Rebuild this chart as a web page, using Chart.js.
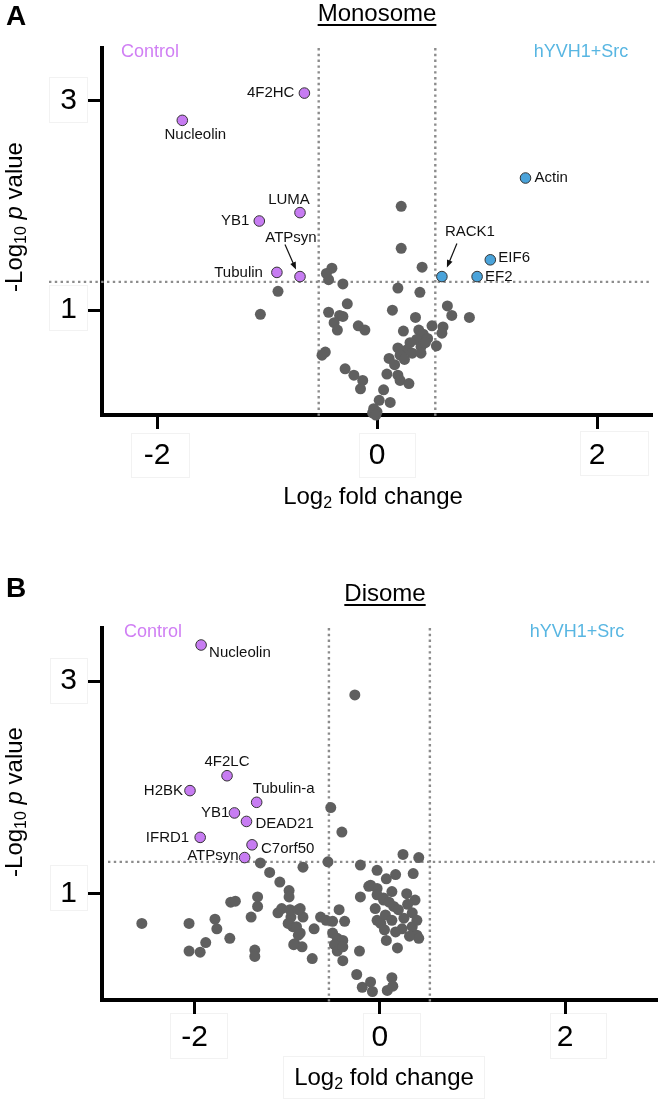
<!DOCTYPE html>
<html>
<head>
<meta charset="utf-8">
<script src="https://cdn.jsdelivr.net/npm/chart.js@4.4.1/dist/chart.umd.min.js"></script>
<style>
  body { margin: 0; background: #fff; width: 664px; height: 1100px; position: relative; overflow: hidden; }
  canvas { position: absolute; left: 0; }
  #monoCanvas { top: 0; }
  #diCanvas { top: 560px; }
</style>
</head>
<body>
<canvas id="monoCanvas" width="664" height="540"></canvas>
<canvas id="diCanvas" width="664" height="540"></canvas>
<script>

  //////////////////
 // DATA         //
//////////////////

const xTicks = [-2, 0, 2];
const yTicks = [1, 3];

// Monosome : other proteins (grey)
const monoGreyX = [0.22, 0.22, 0.41, -0.41, -0.46, -0.44, -0.31, 0.19, 0.39, -0.90, -0.27, 0.14, 0.64, -0.44, -0.34, 0.35, 0.68, 0.84, -1.06, -0.31,
  -0.39, -0.36, -0.17, -0.11, 0.24, 0.60, 0.59, 0.38, 0.42, 0.50, 0.36, 0.46, 0.54, 0.30, 0.40, 0.27, 0.19, 0.32, 0.21, 0.11,
  0.25, 0.40, 0.44, -0.47, -0.50, 0.16, 0.09, 0.19, 0.21, 0.29, -0.29, -0.21, -0.13, -0.15, 0.06, 0.02, 0.12, -0.03, 0.00, -0.04, -0.01];
const monoGreyY = [1.99, 1.59, 1.41, 1.40, 1.35, 1.29, 1.25, 1.21, 1.17, 1.18, 1.06, 1.00, 1.04, 0.98, 0.95, 0.93, 0.95, 0.93, 0.96, 0.94,
  0.88, 0.81, 0.85, 0.81, 0.80, 0.84, 0.78, 0.81, 0.77, 0.85, 0.72, 0.73, 0.66, 0.69, 0.65, 0.62, 0.64, 0.59, 0.57, 0.54,
  0.53, 0.59, 0.69, 0.60, 0.57, 0.48, 0.39, 0.38, 0.33, 0.30, 0.44, 0.38, 0.33, 0.25, 0.24, 0.14, 0.12, 0.06, 0.03, 0.02, 0.00];

// Monosome : enriched in Control (purple)
const monoCtrlNames = ['4F2HC', 'Nucleolin', 'LUMA', 'YB1', 'ATPsyn', 'Tubulin'];
const monoCtrlX = [-0.66, -1.77, -0.70, -1.07, -0.70, -0.91];
const monoCtrlY = [3.07, 2.81, 1.93, 1.85, 1.32, 1.36];

// Monosome : enriched in hYVH1+Src (blue)
const monoSrcNames = ['Actin', 'RACK1', 'EIF6', 'EF2'];
const monoSrcX = [1.35, 0.59, 1.03, 0.91];
const monoSrcY = [2.26, 1.32, 1.48, 1.32];

const monoFcCut = [-0.53, 0.53];
const monoPCut = 1.27;

// Disome : other proteins (grey)
const diGreyX = [-0.27, -0.53, -0.41, 0.25, 0.42, -0.56, -1.29, -0.83, -0.21, -1.19, -0.03, 0.17, 0.07, 0.36, -1.08, -0.98, -0.10, -0.03, 0.13, 0.29,
  -0.21, -0.98, -1.32, 0.38, 0.04, -1.61, -1.56, -1.32, -2.57, -2.06, -1.78, -1.76, -1.88, -2.06, -1.94, -1.62, -1.39, -1.35, -1.35, -1.10,
  -1.06, -0.96, -0.86, -0.83, -0.94, -0.86, -0.92, -0.84, -0.71, -0.73, -0.64, -0.58, -0.51, -0.44, -0.38, -0.51, -0.46, -0.40, -0.49, -0.46,
  -0.40, -0.22, -0.25, -0.19, -0.10, -0.08, 0.08, 0.13, 0.14, -0.12, -0.03, -0.05, 0.04, -0.03, 0.06, 0.15, 0.13, 0.26, 0.35, 0.40,
  0.17, 0.24, 0.35, 0.40, 0.42, 0.07, 0.19, 0.01, -0.97, -0.88, -0.99, -0.90, -0.88, -0.93, -0.40, 0.10, 0.20, 0.30, 0.05, 0.32];
const diGreyY = [2.87, 1.81, 1.58, 1.37, 1.34, 1.30, 1.29, 1.25, 1.27, 1.20, 1.22, 1.18, 1.14, 1.19, 1.11, 1.03, 1.08, 1.05, 1.02, 1.00,
  0.97, 0.97, 0.97, 0.94, 0.96, 0.92, 0.93, 0.88, 0.72, 0.72, 0.76, 0.67, 0.54, 0.46, 0.45, 0.58, 0.78, 0.47, 0.41, 0.82,
  0.86, 0.78, 0.86, 0.78, 0.69, 0.63, 0.53, 0.50, 0.67, 0.39, 0.78, 0.75, 0.74, 0.85, 0.74, 0.63, 0.58, 0.56, 0.52, 0.46,
  0.37, 0.46, 0.24, 0.12, 0.17, 0.08, 0.09, 0.21, 0.13, 1.07, 0.99, 0.86, 0.94, 0.75, 0.80, 0.88, 0.75, 0.77, 0.82, 0.75,
  0.64, 0.67, 0.69, 0.61, 0.58, 0.56, 0.49, 0.72, 0.85, 0.85, 0.72, 0.69, 0.61, 0.52, 0.50, 0.92, 0.85, 0.90, 0.66, 0.60];

// Disome : enriched in Control (purple)
const diCtrlNames = ['Nucleolin', '4F2LC', 'H2BK', 'Tubulin-a', 'YB1', 'DEAD21', 'IFRD1', 'C7orf50', 'ATPsyn'];
const diCtrlX = [-1.93, -1.65, -2.05, -1.33, -1.57, -1.44, -1.94, -1.38, -1.46];
const diCtrlY = [3.34, 2.11, 1.97, 1.86, 1.76, 1.68, 1.53, 1.46, 1.34];

const diFcCut = [-0.55, 0.54];
const diPCut = 1.30;


  //////////////////
 // STYLE        //
//////////////////

const FONT = '"Liberation Sans", Arial, Helvetica, sans-serif';
const GREY = '#5f5f5f';
const PURPLE = '#c77cf2';
const BLUE = '#4aa3da';

// label placement around the points (px)
const monoLabelPos = {
  '4F2HC': { dx: -10, dy: 0, align: 'right' },
  'Nucleolin': { dx: 13, dy: 15, align: 'center' },
  'LUMA': { dx: -11, dy: -13, align: 'center' },
  'YB1': { dx: -10, dy: 0, align: 'right' },
  'ATPsyn': { dx: -9, dy: -39, align: 'center', arrow: [-15, -32, -4, -7] },
  'Tubulin': { dx: -14, dy: 0, align: 'right' },
  'Actin': { dx: 9, dy: 0, align: 'left' },
  'RACK1': { dx: 28, dy: -45, align: 'center', arrow: [15, -33, 5, -9] },
  'EIF6': { dx: 8, dy: -2, align: 'left' },
  'EF2': { dx: 8, dy: 0, align: 'left' }
};
const diLabelPos = {
  'Nucleolin': { dx: 8, dy: 8, align: 'left' },
  '4F2LC': { dx: 0, dy: -14, align: 'center' },
  'H2BK': { dx: -7, dy: 0, align: 'right' },
  'Tubulin-a': { dx: -4, dy: -13, align: 'left' },
  'YB1': { dx: -5, dy: 0, align: 'right' },
  'DEAD21': { dx: 9, dy: 2, align: 'left' },
  'IFRD1': { dx: -11, dy: 0, align: 'right' },
  'C7orf50': { dx: 9, dy: 4, align: 'left' },
  'ATPsyn': { dx: -6, dy: -2, align: 'right' }
};

function toPoints(xs, ys) {
  return xs.map((v, i) => ({ x: v, y: ys[i] }));
}

// draws a run of text pieces (for subscripts / italics), centred on x
function drawRich(ctx, parts, x, y) {
  let total = 0;
  parts.forEach(p => { ctx.font = p.font; total += ctx.measureText(p.t).width; });
  let cx = x - total / 2;
  ctx.textAlign = 'left';
  ctx.textBaseline = 'middle';
  parts.forEach(p => {
    ctx.font = p.font;
    ctx.fillText(p.t, cx, y + (p.dy || 0));
    cx += ctx.measureText(p.t).width;
  });
}

function xTitleParts() {
  return [
    { t: 'Log', font: '24px ' + FONT },
    { t: '2', font: '16px ' + FONT, dy: 7 },
    { t: ' fold change', font: '24px ' + FONT }
  ];
}
function yTitleParts() {
  return [
    { t: '-Log', font: '24px ' + FONT },
    { t: '10', font: '16px ' + FONT, dy: 7 },
    { t: ' ', font: '24px ' + FONT },
    { t: 'p', font: 'italic 24px ' + FONT },
    { t: ' value', font: '24px ' + FONT }
  ];
}


  //////////////////
 // PLUGIN       //
//////////////////

const volcanoDeco = {
  id: 'volcanoDeco',

  beforeDraw(chart, args, o) {
    const ctx = chart.ctx;
    ctx.save();
    ctx.fillStyle = '#fff';
    ctx.strokeStyle = '#f2f2f2';
    ctx.lineWidth = 1;
    o.boxes.forEach(b => {
      ctx.fillRect(b[0], b[1], b[2], b[3]);
      ctx.strokeRect(b[0] + 0.5, b[1] + 0.5, b[2], b[3]);
    });
    ctx.restore();
  },

  beforeDatasetsDraw(chart, args, o) {
    const { ctx, chartArea, scales: { x, y } } = chart;
    ctx.save();
    ctx.strokeStyle = '#8c8c8c';
    ctx.lineWidth = 2.4;
    ctx.setLineDash([2.4, 3.4]);
    o.fcCut.forEach(v => {
      const px = x.getPixelForValue(v);
      ctx.beginPath();
      ctx.moveTo(px, chartArea.top);
      ctx.lineTo(px, chartArea.bottom + 3);
      ctx.stroke();
    });
    const py = y.getPixelForValue(o.pCut);
    ctx.beginPath();
    ctx.moveTo(o.hStart, py);
    ctx.lineTo(chartArea.right - 3, py);
    ctx.stroke();
    ctx.restore();
  },

  afterDatasetsDraw(chart, args, o) {
    const ctx = chart.ctx;
    ctx.save();
    ctx.fillStyle = '#111';
    ctx.strokeStyle = '#111';
    ctx.font = '15px ' + FONT;
    ctx.textBaseline = 'middle';
    chart.data.datasets.forEach((ds, i) => {
      if (!ds.names) return;
      const meta = chart.getDatasetMeta(i);
      ds.names.forEach((name, j) => {
        const pt = meta.data[j];
        const lp = o.labelPos[name];
        if (!lp) return;
        ctx.textAlign = lp.align;
        ctx.fillText(name, pt.x + lp.dx, pt.y + lp.dy);
        if (lp.arrow) {
          const x1 = pt.x + lp.arrow[0], y1 = pt.y + lp.arrow[1];
          const x2 = pt.x + lp.arrow[2], y2 = pt.y + lp.arrow[3];
          const ang = Math.atan2(y2 - y1, x2 - x1);
          ctx.lineWidth = 1.2;
          ctx.beginPath();
          ctx.moveTo(x1, y1);
          ctx.lineTo(x2 - 5 * Math.cos(ang), y2 - 5 * Math.sin(ang));
          ctx.stroke();
          ctx.beginPath();
          ctx.moveTo(x2, y2);
          ctx.lineTo(x2 - 8 * Math.cos(ang - 0.38), y2 - 8 * Math.sin(ang - 0.38));
          ctx.lineTo(x2 - 8 * Math.cos(ang + 0.38), y2 - 8 * Math.sin(ang + 0.38));
          ctx.closePath();
          ctx.fill();
        }
      });
    });
    ctx.restore();
  },

  afterDraw(chart, args, o) {
    const ctx = chart.ctx;
    ctx.save();
    ctx.fillStyle = '#000';
    ctx.textBaseline = 'middle';

    // panel letter
    ctx.font = 'bold 28px ' + FONT;
    ctx.textAlign = 'left';
    ctx.fillText(o.letter, o.letterPos[0], o.letterPos[1]);

    // title, underlined
    ctx.font = '24px ' + FONT;
    ctx.textAlign = 'center';
    ctx.fillText(o.title, o.titlePos[0], o.titlePos[1]);
    const tw = ctx.measureText(o.title).width;
    ctx.fillRect(o.titlePos[0] - tw / 2, o.titlePos[1] + 10, tw, 2);

    // group names
    ctx.font = '18px ' + FONT;
    ctx.fillStyle = '#d07ff4';
    ctx.fillText('Control', o.ctrlPos[0], o.ctrlPos[1]);
    ctx.fillStyle = '#58b6e2';
    ctx.fillText('hYVH1+Src', o.srcPos[0], o.srcPos[1]);

    // axis titles
    ctx.fillStyle = '#000';
    drawRich(ctx, xTitleParts(), o.xTitlePos[0], o.xTitlePos[1]);
    ctx.translate(o.yTitlePos[0], o.yTitlePos[1]);
    ctx.rotate(-Math.PI / 2);
    drawRich(ctx, yTitleParts(), 0, 0);
    ctx.restore();
  }
};


  //////////////////
 // CHART        //
//////////////////

function makeVolcano(canvasId, datasets, xRange, pad, xAxisHeight, tickPad, deco) {
  return new Chart(document.getElementById(canvasId).getContext('2d'), {
    type: 'scatter',
    data: { datasets: datasets },
    options: {
      responsive: false,
      animation: false,
      layout: { padding: pad },
      plugins: { legend: { display: false }, tooltip: { enabled: false }, volcanoDeco: deco },
      scales: {
        x: {
          type: 'linear',
          min: xRange[0],
          max: xRange[1],
          afterBuildTicks: s => { s.ticks = xTicks.map(v => ({ value: v })); },
          afterFit: s => { s.height = xAxisHeight; },
          grid: { drawOnChartArea: false, drawTicks: true, tickLength: 14, tickWidth: 3, tickColor: '#000' },
          border: { display: true, width: 4, color: '#000' },
          ticks: { color: '#000', padding: tickPad, font: { size: 30, family: FONT } }
        },
        y: {
          type: 'linear',
          min: 0,
          max: 3.5,
          afterBuildTicks: s => { s.ticks = yTicks.map(v => ({ value: v })); },
          afterFit: s => { s.width = 102; },
          grid: { drawOnChartArea: false, drawTicks: true, tickLength: 14, tickWidth: 3, tickColor: '#000' },
          border: { display: true, width: 4, color: '#000' },
          ticks: { color: '#000', padding: 11, font: { size: 30, family: FONT } }
        }
      }
    },
    plugins: [volcanoDeco]
  });
}

const greyStyle = { backgroundColor: GREY, borderWidth: 0, pointRadius: 5.5, clip: false };

// Monosome
makeVolcano('monoCanvas', [
  Object.assign({ data: toPoints(monoGreyX, monoGreyY) }, greyStyle),
  { data: toPoints(monoCtrlX, monoCtrlY), names: monoCtrlNames, backgroundColor: PURPLE, borderColor: '#333', borderWidth: 1, pointRadius: 5.3, clip: false },
  { data: toPoints(monoSrcX, monoSrcY), names: monoSrcNames, backgroundColor: BLUE, borderColor: '#333', borderWidth: 1, pointRadius: 5.3, clip: false }
], [-2.5, 2.5], { top: 48, right: 12, left: 0, bottom: 0 }, 125, 9, {
  letter: 'A', letterPos: [6, 17],
  title: 'Monosome', titlePos: [377, 14],
  ctrlPos: [150, 52], srcPos: [581, 52],
  xTitlePos: [373, 497], yTitlePos: [15, 217],
  fcCut: monoFcCut, pCut: monoPCut, hStart: 49,
  labelPos: monoLabelPos,
  boxes: [[49, 77, 38, 45], [49, 285, 38, 45], [131, 433, 58, 44], [359, 433, 56, 44], [580, 431, 68, 44]]
});

// Disome
makeVolcano('diCanvas', [
  Object.assign({ data: toPoints(diGreyX, diGreyY) }, greyStyle),
  { data: toPoints(diCtrlX, diCtrlY), names: diCtrlNames, backgroundColor: PURPLE, borderColor: '#333', borderWidth: 1, pointRadius: 5.3, clip: false }
], [-3, 3], { top: 68, right: 3, left: 0, bottom: 0 }, 100, 6, {
  letter: 'B', letterPos: [6, 29],
  title: 'Disome', titlePos: [385, 34],
  ctrlPos: [153, 72], srcPos: [577, 72],
  xTitlePos: [384, 518], yTitlePos: [15, 242],
  fcCut: diFcCut, pCut: diPCut, hStart: 108,
  labelPos: diLabelPos,
  boxes: [[50, 98, 37, 45], [50, 305, 37, 45], [170, 453, 57, 45], [363, 453, 57, 45], [550, 453, 56, 45], [283, 496, 201, 42]]
});

</script>
</body>
</html>
